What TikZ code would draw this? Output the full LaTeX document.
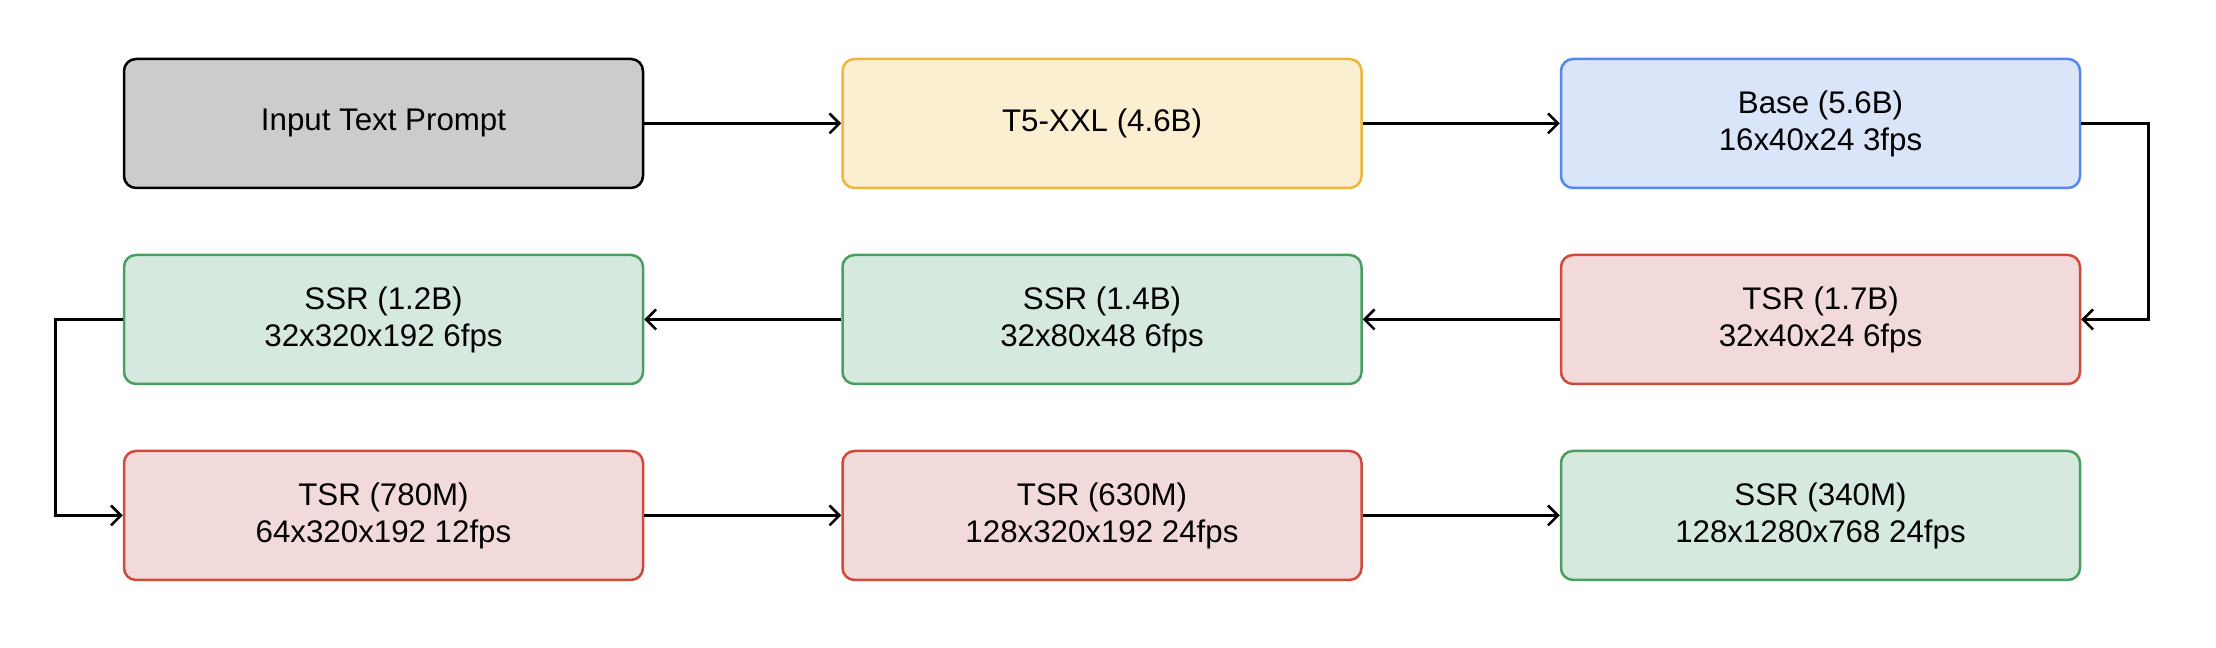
\documentclass[tikz,border=0pt]{standalone}
\usepackage{fontspec}
\setmainfont{Liberation Sans}
\usepackage{tikz}
\usetikzlibrary{arrows.meta}
\definecolor{PromptFill}{HTML}{CCCCCC}
\definecolor{EncFill}{HTML}{FAEFD0}
\definecolor{EncLine}{HTML}{EDB63E}
\definecolor{BaseFill}{HTML}{DAE5F9}
\definecolor{BaseLine}{HTML}{5587F0}
\definecolor{SsrFill}{HTML}{D5E9DE}
\definecolor{SsrLine}{HTML}{4A9E62}
\definecolor{TsrFill}{HTML}{F2DADA}
\definecolor{TsrLine}{HTML}{CF4A3A}
\tikzset{
  VertexStyle/.style = {draw, rounded corners=1.2mm, line width=0.25mm,
                        minimum width=51.9mm, minimum height=12.9mm,
                        align=center, font=\fontsize{8.9}{10.5}\selectfont},
  PromptStyle/.style = {VertexStyle, draw=black, fill=PromptFill},
  EncStyle/.style    = {VertexStyle, draw=EncLine, fill=EncFill},
  BaseStyle/.style   = {VertexStyle, draw=BaseLine, fill=BaseFill},
  SsrStyle/.style    = {VertexStyle, draw=SsrLine, fill=SsrFill},
  TsrStyle/.style    = {VertexStyle, draw=TsrLine, fill=TsrFill},
  EdgeStyle/.style   = {-{Straight Barb[length=1mm,width=2mm]}, line width=0.25mm}
}
\newcommand{\stagenode}[4]{
  \node[#1] (#2) at (#3) {#4};
}

\begin{document}
\begin{tikzpicture}
  \useasboundingbox (0,0) rectangle (22.16,6.48);
  \stagenode{PromptStyle}{A}{3.835,5.245}{Input Text Prompt}
  \stagenode{EncStyle}{B}{11.02,5.245}{T5-XXL (4.6B)}
  \stagenode{BaseStyle}{C}{18.205,5.245}{Base (5.6B)\\16x40x24 3fps}
  \stagenode{TsrStyle}{D}{18.205,3.285}{TSR (1.7B)\\32x40x24 6fps}
  \stagenode{SsrStyle}{E}{11.02,3.285}{SSR (1.4B)\\32x80x48 6fps}
  \stagenode{SsrStyle}{F}{3.835,3.285}{SSR (1.2B)\\32x320x192 6fps}
  \stagenode{TsrStyle}{G}{3.835,1.325}{TSR (780M)\\64x320x192 12fps}
  \stagenode{TsrStyle}{H}{11.02,1.325}{TSR (630M)\\128x320x192 24fps}
  \stagenode{SsrStyle}{I}{18.205,1.325}{SSR (340M)\\128x1280x768 24fps}
  \draw[EdgeStyle] (A) -- (B);
  \draw[EdgeStyle] (B) -- (C);
  \draw[EdgeStyle] (C.east) -- ++(0.67,0) |- (D.east);
  \draw[EdgeStyle] (D) -- (E);
  \draw[EdgeStyle] (E) -- (F);
  \draw[EdgeStyle] (F.west) -- ++(-0.675,0) |- (G.west);
  \draw[EdgeStyle] (G) -- (H);
  \draw[EdgeStyle] (H) -- (I);
\end{tikzpicture}
\end{document}
